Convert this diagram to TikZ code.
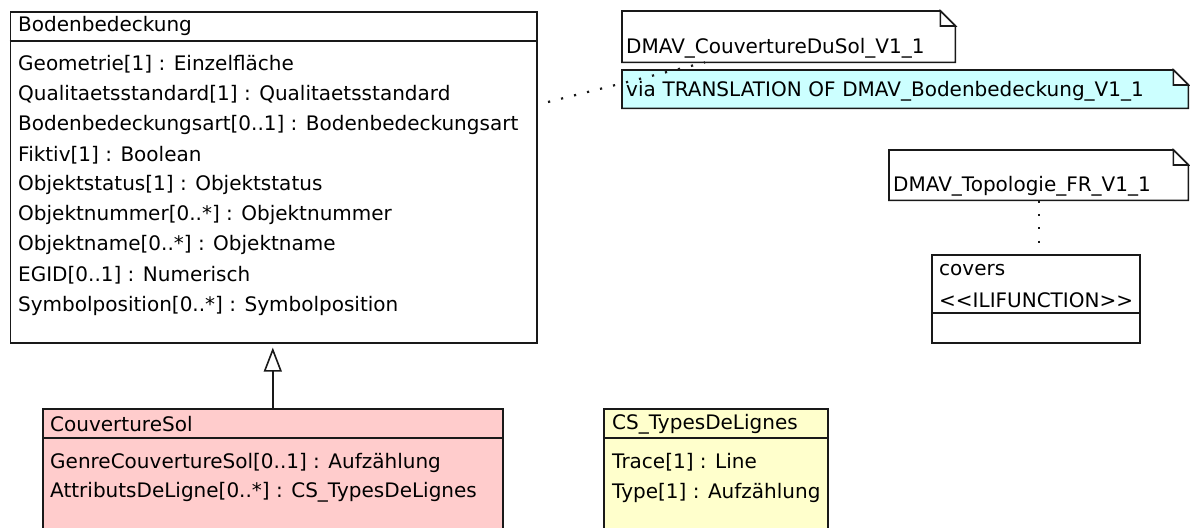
\documentclass[tikz,border=0pt]{standalone}
\usepackage{fontspec}
\setmainfont{DejaVu Sans}
\usetikzlibrary{arrows.meta,backgrounds}
\definecolor{classpink}{HTML}{FFCCCC}
\definecolor{classyellow}{HTML}{FFFFCC}
\definecolor{notecyan}{HTML}{CCFFFF}
\begin{document}
\begin{tikzpicture}[
    x=1pt, y=-1pt,
    font=\fontsize{20}{24}\selectfont,
    classbox/.style={rectangle, draw=black!90, line width=1.6pt, anchor=north west, inner sep=0pt},
    sepline/.style={draw=black!90, line width=1.6pt},
    attr/.style={anchor=west, inner sep=0pt},
    notebox/.style={anchor=north west, align=left, inner xsep=4pt, inner ysep=0pt, text height=42pt, text depth=9pt},
    notepath/.style={draw=black!90, line width=1.6pt},
    link/.style={draw=black!90, line width=2.2pt, dash pattern=on 2.2pt off 11.2pt},
    inherit/.style={-{Triangle[open, length=24pt, width=18pt]}, line width=1.6pt, draw=black!90, shorten >=4pt}
]
\useasboundingbox (0,0) rectangle (1190,527);
\clip (0,0) rectangle (1190,527);

% Superclass
\node[classbox, minimum width=526.4pt, minimum height=331pt] (boden) at (9.6,11) {};
\draw[sepline] ([yshift=-30pt]boden.north west) -- ([yshift=-30pt]boden.north east);
\node[attr] (boden-name) at (18,26) {Bodenbedeckung};
\foreach \txt [count=\i] in {Geometrie[1] : Einzelfläche, Qualitaetsstandard[1] : Qualitaetsstandard,
    Bodenbedeckungsart[0..1] : Bodenbedeckungsart, Fiktiv[1] : Boolean, Objektstatus[1] : Objektstatus,
    Objektnummer[0..*] : Objektnummer, Objektname[0..*] : Objektname, EGID[0..1] : Numerisch,
    Symbolposition[0..*] : Symbolposition}
    \node[attr] (boden-a\i) at (18,34+30.2*\i) {\txt};

% Subclass
\node[classbox, fill=classpink, minimum width=460pt, minimum height=140pt] (couv) at (42,408) {};
\draw[sepline] ([yshift=-30pt]couv.north west) -- ([yshift=-30pt]couv.north east);
\node[attr] (couv-name) at (50,424) {CouvertureSol};
\node[attr] (couv-a1) at (50,462.5) {GenreCouvertureSol[0..1] : Aufzählung};
\node[attr] (couv-a2) at (50,492.5) {AttributsDeLigne[0..*] : CS\_TypesDeLignes};

% Structure
\node[classbox, fill=classyellow, minimum width=224pt, minimum height=140pt] (types) at (603,408) {};
\draw[sepline] ([yshift=-30pt]types.north west) -- ([yshift=-30pt]types.north east);
\node[attr] (types-name) at (612,424) {CS\_TypesDeLignes};
\node[attr] (types-a1) at (612,462.5) {Trace[1] : Line};
\node[attr] (types-a2) at (612,492.5) {Type[1] : Aufzählung};

% Function
\node[classbox, minimum width=208pt, minimum height=88pt] (covers) at (931,254) {};
\draw[sepline] ([yshift=-59pt]covers.north west) -- ([yshift=-59pt]covers.north east);
\node[attr] (covers-name) at (939,270) {covers};
\node[attr] (covers-stereo) at (939,300) {<{}<ILIFUNCTION>{}>};

% Notes
\node[notebox, text width=325pt] (notedu) at (622,11) {DMAV\_CouvertureDuSol\_V1\_1};
\node[notebox, text width=558pt, text height=26pt, text depth=12pt] (notevia) at (622,70) {via TRANSLATION OF DMAV\_Bodenbedeckung\_V1\_1};
\node[notebox, text width=291pt, text height=41pt] (notetopo) at (889,150) {DMAV\_Topologie\_FR\_V1\_1};

\begin{scope}[on background layer]
\foreach \n/\c in {notedu/white, notevia/notecyan, notetopo/white} {
    \path[fill=\c] (\n.north west) -- ([xshift=-15pt]\n.north east) -- ([yshift=-15pt]\n.north east)
        -- (\n.south east) -- (\n.south west) -- cycle;
    \draw[notepath] (\n.north west) -- ([xshift=-15pt]\n.north east) -- ([yshift=-15pt]\n.north east)
        -- (\n.south east) -- (\n.south west) -- cycle;
    \draw[notepath, fill=white] ([xshift=-15pt]\n.north east) |- ([yshift=-15pt]\n.north east) -- cycle;
}
\end{scope}

% Links
\coordinate (linkstart) at (548,102);
\draw[link] (linkstart) -- ([xshift=83pt]notedu.south west);
\draw[link] (notetopo.south) -- (notetopo.south |- covers.north);
\draw[inherit] (couv.north) -- (couv.north |- boden.south);

\end{tikzpicture}
\end{document}
